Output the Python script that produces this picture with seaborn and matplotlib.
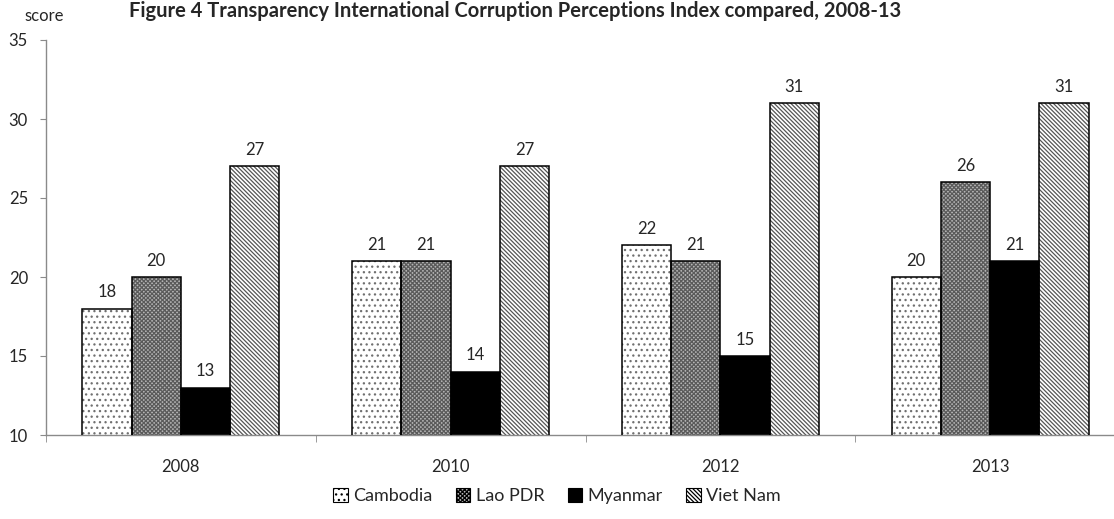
import matplotlib
matplotlib.use("Agg")
import matplotlib.pyplot as plt
from matplotlib.patches import Patch, Rectangle
import numpy as np
import pandas as pd
import seaborn as sb

# data
years = ["2008", "2010", "2012", "2013"]
countries = ["Cambodia", "Lao PDR", "Myanmar", "Viet Nam"]
cambodia = [18, 21, 22, 20]
lao = [20, 21, 21, 26]
myanmar = [13, 14, 15, 21]
vietnam = [27, 27, 31, 31]

df = pd.DataFrame({"year": years * 4,
                   "country": np.repeat(countries, 4),
                   "score": cambodia + lao + myanmar + vietnam})

sb.set_style("white")
plt.rcParams["font.family"] = ["Lato", "DejaVu Sans"]
plt.rcParams["hatch.linewidth"] = 0.9

fig, ax = plt.subplots(figsize=(11.14, 5.19), dpi=100)
# plot area runs past the right edge, as in the source image
fig.subplots_adjust(left=46/1114, right=1125/1114, top=1-40/519, bottom=1-435/519)

sb.barplot(data=df, x="year", y="score", hue="country", order=years,
           hue_order=countries, width=0.73, ax=ax, legend=False)

# (face colour, hatch, hatch colour) per series
styles = [("white", "...", "#707070"),
          ("#b4b4b4", "xxxxxxxx", "#5a5a5a"),
          ("black", "", "black"),
          ("white", "\\\\\\\\\\\\\\\\", "#555555")]
for cont, (fc, hatch, hc) in zip(ax.containers, styles):
    for bar in cont:
        bar.set_facecolor(fc)
        bar.set_hatch(hatch)
        bar.set_edgecolor(hc)
        bar.set_linewidth(0)
        # black outline on top of the hatched bar
        ax.add_patch(Rectangle(bar.get_xy(), bar.get_width(), bar.get_height(),
                               fill=False, edgecolor="black", linewidth=1.1, zorder=3))
    ax.bar_label(cont, padding=6, fontsize=12)

ax.set_ylim(10, 35)
ax.set_yticks(range(10, 36, 5))
ax.set_xlim(-0.5, 3.5)
ax.set_xlabel("")
ax.set_ylabel("")
fig.text(44/1114, 1-16/519, "score", ha="center", va="center", fontsize=12)
fig.text(515/1114, 0.999, "Figure 4 Transparency International Corruption Perceptions Index compared, 2008-13",
         ha="center", va="top", fontsize=14.5, fontweight="bold")

for s in ["top", "right"]:
    ax.spines[s].set_visible(False)
for s in ["left", "bottom"]:
    ax.spines[s].set_color("#8a8a8a")
    ax.spines[s].set_linewidth(1.0)
ax.tick_params(axis="y", left=True, length=4, color="#8a8a8a", labelsize=12, pad=9)
ax.tick_params(axis="x", which="major", length=0, labelsize=12, pad=17)
ax.set_xticks(np.arange(-0.5, 4, 1), minor=True)
ax.tick_params(axis="x", which="minor", bottom=True, length=5, color="#8a8a8a")

handles = [Patch(facecolor=fc, hatch=h, edgecolor=hc, linewidth=0.8) for fc, h, hc in styles]
leg = ax.legend(handles, countries, loc="center", bbox_to_anchor=(557/1114, 1-496/519),
                bbox_transform=fig.transFigure, ncol=4, frameon=False, fontsize=13,
                handlelength=0.8, handleheight=0.8, handletextpad=0.3, columnspacing=1.3)
for h in leg.legend_handles:
    h.set_edgecolor("black")

plt.savefig("out.png", dpi=100)
